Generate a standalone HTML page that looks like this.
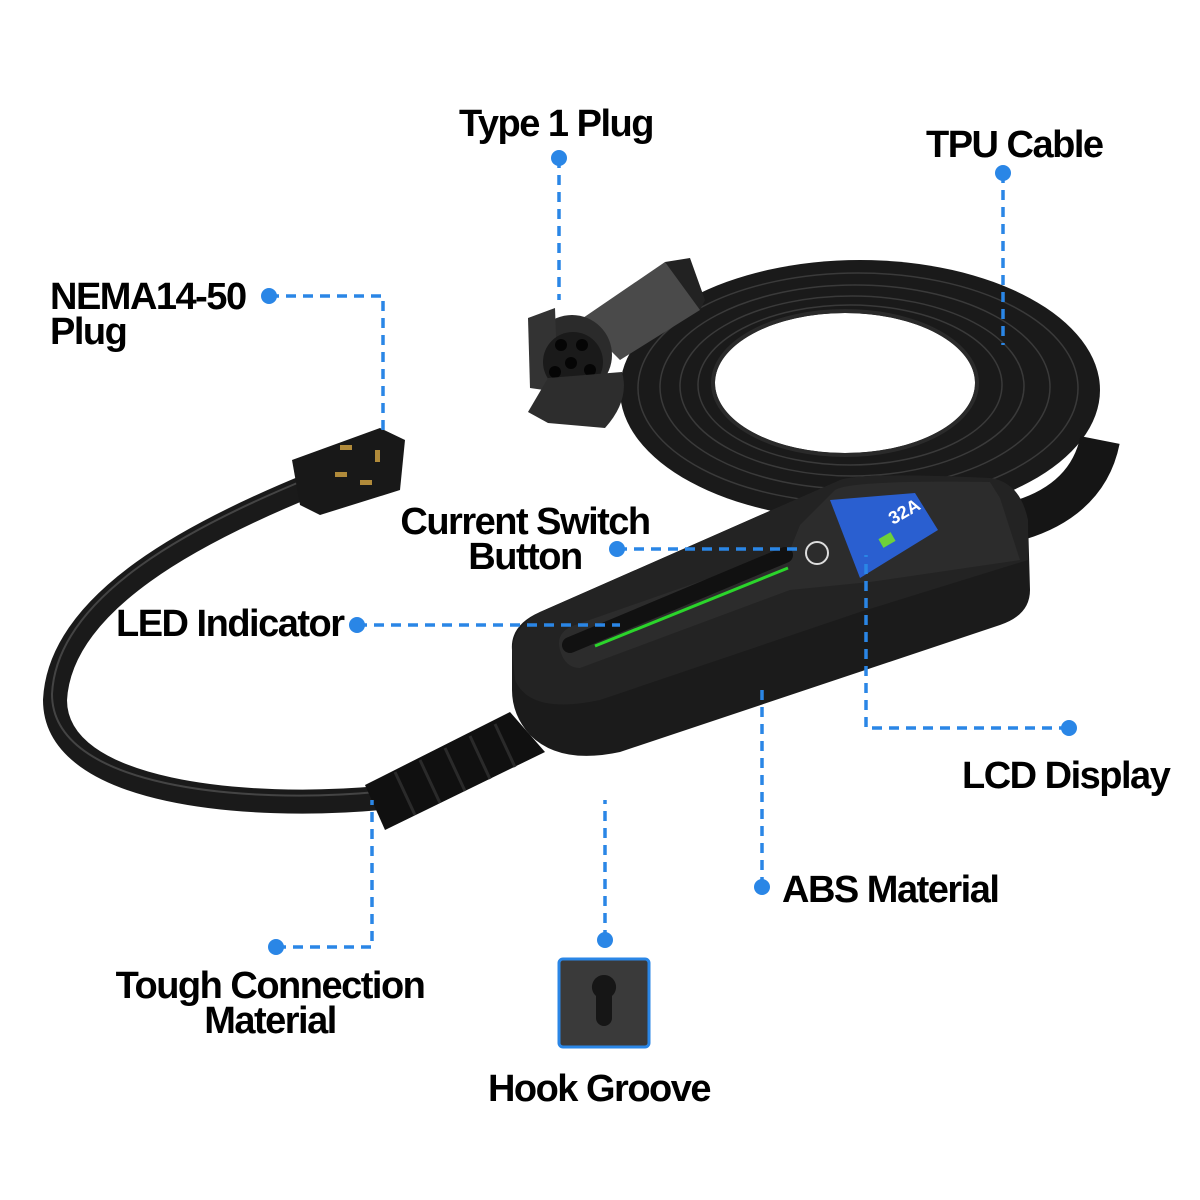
<!DOCTYPE html>
<html><head><meta charset="utf-8"><style>
html,body{margin:0;padding:0;background:#fff;}
svg{display:block}
text{font-family:"Liberation Sans",Arial,sans-serif;font-weight:bold;fill:#000;letter-spacing:-1.5px}
</style></head><body>
<svg width="1200" height="1200" viewBox="0 0 1200 1200" xmlns="http://www.w3.org/2000/svg">
<!-- coil band -->
<ellipse cx="860" cy="390" rx="240" ry="130" fill="#1a1a1a"/>
<g fill="none" stroke="#3a3a3a" stroke-width="1.5">
<ellipse cx="858" cy="388" rx="220" ry="115"/>
<ellipse cx="855" cy="387" rx="195" ry="102"/>
<ellipse cx="852" cy="386" rx="172" ry="90"/>
<ellipse cx="850" cy="385" rx="152" ry="80"/>
</g>
<ellipse cx="845" cy="383" rx="130" ry="70" fill="#fff"/>
<ellipse cx="845" cy="383" rx="132" ry="72" fill="none" stroke="#2a2a2a" stroke-width="4"/>
<!-- cable from box to coil right -->
<path d="M1000 525 C1050 515 1090 490 1100 440" fill="none" stroke="#151515" stroke-width="40"/>
<!-- Type1 plug -->
<path d="M580 320 L665 262 L690 275 L700 310 L620 360 Z" fill="#4a4a4a"/>
<path d="M665 262 L690 258 L705 300 L700 310 Z" fill="#222"/>
<circle cx="572" cy="355" r="40" fill="#2b2b2b"/>
<path d="M528 318 L555 308 L558 392 L530 388 Z" fill="#333"/>
<circle cx="573" cy="362" r="30" fill="#1a1a1a"/>
<g fill="#050505"><circle cx="561" cy="345" r="6"/><circle cx="582" cy="345" r="6"/><circle cx="571" cy="363" r="6"/><circle cx="555" cy="372" r="6"/><circle cx="590" cy="370" r="6"/><circle cx="574" cy="382" r="6"/></g>
<path d="M548 378 L622 372 Q630 400 605 428 L548 423 L528 412 Z" fill="#2d2d2d"/>
<!-- left cable -->
<path d="M310 485 C200 530 60 600 55 700 C55 795 250 810 380 798" fill="none" stroke="#1a1a1a" stroke-width="24"/>
<path d="M310 485 C200 530 60 600 55 700 C55 795 250 810 380 798" fill="none" stroke="#444" stroke-width="2" transform="translate(-3 -6)"/>
<!-- NEMA plug -->
<path d="M292 460 L380 428 L405 440 L400 490 L320 515 L300 505 Z" fill="#181818"/>
<g fill="#b08a3a"><rect x="340" y="445" width="12" height="5"/><rect x="335" y="472" width="12" height="5"/><rect x="360" y="480" width="12" height="5"/><rect x="375" y="450" width="5" height="12"/></g>
<!-- strain relief -->
<path d="M365 785 L510 712 L545 752 L385 830 Z" fill="#101010"/>
<g stroke="#2a2a2a" stroke-width="3"><line x1="395" y1="772" x2="415" y2="815"/><line x1="420" y1="760" x2="440" y2="803"/><line x1="445" y1="748" x2="465" y2="791"/><line x1="470" y1="736" x2="490" y2="779"/><line x1="495" y1="724" x2="515" y2="767"/></g>
<!-- box -->
<path d="M512 650 Q510 625 540 612 L840 480 Q860 472 990 478 Q1020 482 1028 520 L1030 590 Q1030 615 1000 625 L620 752 Q560 765 530 735 Q512 715 512 690 Z" fill="#1b1b1b"/>
<path d="M512 650 Q515 625 540 612 L840 480 Q860 472 990 478 Q1020 482 1028 520 L1028 560 L860 612 L600 700 Q530 715 515 680 Z" fill="#232323"/>
<path d="M560 650 Q555 632 575 625 L790 550 L800 525 L835 490 Q850 480 990 482 L1000 498 L1020 560 L870 582 L790 590 L580 668 Q565 668 560 650 Z" fill="#2c2c2c"/>
<path d="M570 645 L785 555" stroke="#111" stroke-width="16" stroke-linecap="round"/>
<path d="M595 646 L788 568" stroke="#2bd52b" stroke-width="3"/>
<!-- LCD -->
<path d="M830 500 L915 493 L938 530 L860 578 Z" fill="#2a5fd0"/>
<text x="893" y="525" transform="rotate(-30 893 525)" style="font-size:18px;fill:#fff;letter-spacing:0">32A</text>
<rect x="880" y="535" width="14" height="10" fill="#6dd13a" transform="rotate(-30 887 540)"/>
<circle cx="817" cy="553" r="11" fill="none" stroke="#ddd" stroke-width="2"/>
<!-- hook icon -->
<rect x="559" y="959" width="90" height="88" rx="4" fill="#3a3a3a" stroke="#2a86e6" stroke-width="3"/>
<path d="M604 975 a12 12 0 0 1 8 21 l0 22 a8 8 0 0 1 -16 0 l0 -22 a12 12 0 0 1 8 -21 Z" fill="#161616"/>
<!-- leaders -->
<g fill="none" stroke="#2a86e6" stroke-width="3.5" stroke-dasharray="10 7">
<path d="M559 158 V300"/>
<path d="M1003 173 V345"/>
<path d="M269 296 H383 V430"/>
<path d="M617 549 H800"/>
<path d="M357 625 H620"/>
<path d="M1069 728 H866 V555"/>
<path d="M762 887 V686"/>
<path d="M605 940 V800"/>
<path d="M276 947 H372 V800"/>
</g>
<g fill="#2a86e6">
<circle cx="559" cy="158" r="8"/><circle cx="1003" cy="173" r="8"/><circle cx="269" cy="296" r="8"/>
<circle cx="617" cy="549" r="8"/><circle cx="357" cy="625" r="8"/><circle cx="1069" cy="728" r="8"/>
<circle cx="762" cy="887" r="8"/><circle cx="605" cy="940" r="8"/><circle cx="276" cy="947" r="8"/>
</g>
<!-- labels -->
<g style="font-size:38px">
<text x="459" y="136">Type 1 Plug</text>
<text x="926" y="157">TPU Cable</text>
<text x="50" y="309">NEMA14-50</text>
<text x="50" y="344">Plug</text>
<text x="525" y="534" text-anchor="middle">Current Switch</text>
<text x="525" y="569" text-anchor="middle">Button</text>
<text x="116" y="636">LED Indicator</text>
<text x="962" y="788">LCD Display</text>
<text x="782" y="902">ABS Material</text>
<text x="270" y="998" text-anchor="middle">Tough Connection</text>
<text x="270" y="1033" text-anchor="middle">Material</text>
<text x="599" y="1101" text-anchor="middle">Hook Groove</text>
</g>
</svg>
</body></html>
